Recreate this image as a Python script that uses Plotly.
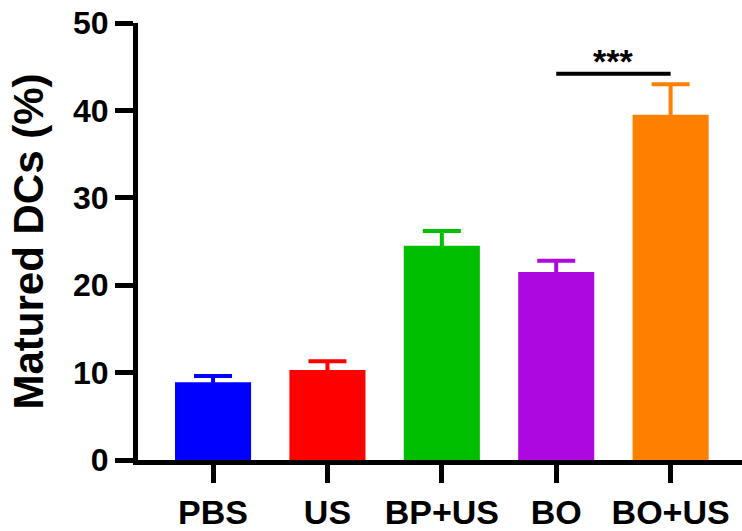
import plotly.graph_objects as go

categories = ["PBS", "US", "BP+US", "BO", "BO+US"]
means = [8.9, 10.3, 24.5, 21.5, 39.5]
upper = [9.6, 11.3, 26.2, 22.8, 43.0]
colors = ["#0000FF", "#FF0000", "#00BF00", "#AE08E0", "#FF8000"]
y_ticks = [0, 10, 20, 30, 40, 50]
sig_pair = ["BO", "BO+US"]
sig_level = [44.2, 44.2]
sig_text = "***"

FONT = "Liberation Sans"

fig = go.Figure()
for c, m, u, col in zip(categories, means, upper, colors):
    fig.add_trace(go.Bar(
        x=[c], y=[m], width=0.665,
        marker=dict(color=col, line=dict(width=0)),
        # lower cap hidden inside the bar (same colour)
        error_y=dict(type="data", symmetric=False, array=[u - m], arrayminus=[min(1.0, m / 2)],
                     color=col, thickness=4, width=19),
        showlegend=False,
    ))

fig.add_trace(go.Scatter(
    x=sig_pair, y=sig_level, mode="lines",
    line=dict(color="black", width=4), showlegend=False, hoverinfo="skip",
))

fig.add_annotation(
    x=3.5, y=45.6, xref="x", yref="y", text=sig_text, showarrow=False,
    font=dict(family=FONT, size=34, color="black", weight="bold"),
    xanchor="center", yanchor="middle",
)

fig.update_layout(
    width=742, height=531,
    margin=dict(l=138, r=0, t=23, b=66),
    plot_bgcolor="white", paper_bgcolor="white",
    barmode="overlay",
    font=dict(family=FONT, color="black"),
)
fig.update_xaxes(
    type="category", categoryorder="array", categoryarray=categories,
    range=[-0.656, 4.624],
    showline=True, linewidth=5, linecolor="black",
    ticks="outside", ticklen=18, tickwidth=5, tickcolor="black",
    tickfont=dict(family=FONT, size=34, color="black", weight="bold"),
    showgrid=False, zeroline=False,
)
fig.update_yaxes(
    range=[0, 50], tickvals=y_ticks,
    showline=True, linewidth=5, linecolor="black",
    ticks="outside", ticklen=18, tickwidth=5, tickcolor="black",
    tickfont=dict(family=FONT, size=32, color="black", weight="bold"),
    showgrid=False, zeroline=False,
    title=dict(text="Matured DCs (%)", standoff=18,
               font=dict(family=FONT, size=42, color="black", weight="bold")),
)

fig.write_html("out.html", config={"displayModeBar": False})
